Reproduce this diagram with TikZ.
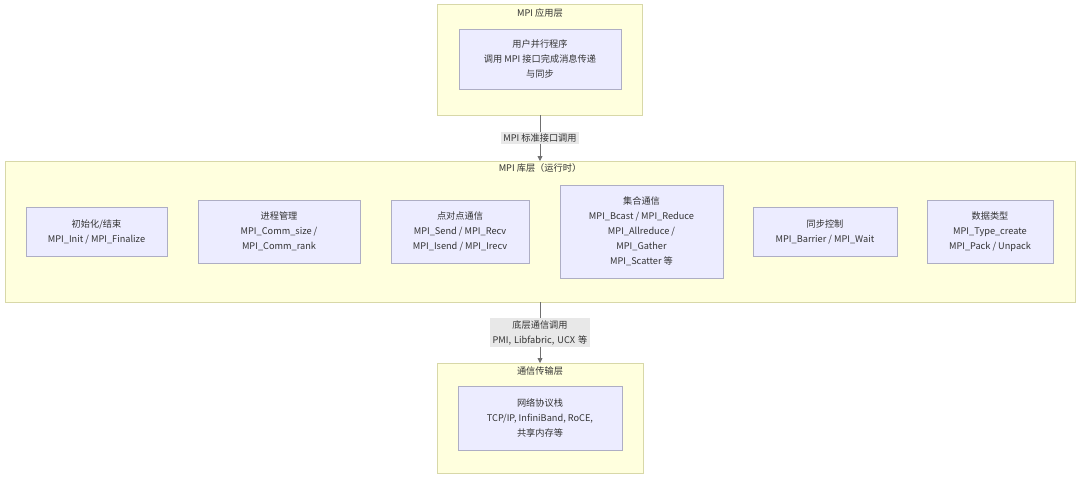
\documentclass[tikz,border=0pt]{standalone}
\usepackage{fontspec}
\newfontfamily\cjk{Noto Sans CJK SC}
\usetikzlibrary{arrows.meta}
\definecolor{clfill}{HTML}{FFFFDE}
\definecolor{cldraw}{HTML}{D8D8A8}
\definecolor{ndfill}{HTML}{ECECFF}
\definecolor{nddraw}{HTML}{AEAEC4}
\definecolor{lblbg}{HTML}{E8E8E8}
\definecolor{arr}{HTML}{707070}
\tikzset{
  cluster/.style={draw=cldraw, fill=clfill, line width=0.8pt},
  box/.style={draw=nddraw, fill=ndfill, line width=0.8pt},
  txt/.style={font=\cjk\fontsize{9.2}{15}\selectfont, text=black!80, align=center, inner sep=0pt},
  conn/.style={draw=arr, line width=0.8pt, -{Triangle[length=5pt,width=5pt]}},
  lbl/.style={fill=lblbg, font=\cjk\fontsize{9.2}{15}\selectfont, text=black!80, align=center, inner sep=2pt}
}
\begin{document}
\begin{tikzpicture}[x=1pt,y=-1pt]
\useasboundingbox[fill=white] (0,0) rectangle (1080,479);
% clusters
\draw[cluster] (437,4) rectangle (642,115);
\coordinate (c1b) at (540,115);
\node[txt] (t1) at (540,13) {MPI 应用层};
\draw[cluster] (5,161) rectangle (1075,302);
\coordinate (c2t) at (540,161);
\coordinate (c2b) at (540,302);
\node[txt] (t2) at (540,168) {MPI 库层（运行时）};
\draw[cluster] (437,363) rectangle (643,473);
\coordinate (c3t) at (540,363);
\node[txt] (t3) at (540,371) {通信传输层};
% boxes
\draw[box] (459,29) rectangle (621,89);
\node[txt] (app) at (540,59) {用户并行程序\\调用 MPI 接口完成消息传递\\与同步};
\draw[box] (26,207) rectangle (167,256);
\node[txt] (init) at (96.5,231.5) {初始化/结束\\MPI\_Init / MPI\_Finalize};
\draw[box] (198,200) rectangle (360,263);
\node[txt] (proc) at (279,231.5) {进程管理\\MPI\_Comm\_size /\\MPI\_Comm\_rank};
\draw[box] (391,200) rectangle (529,263);
\node[txt] (p2p) at (460,231.5) {点对点通信\\MPI\_Send / MPI\_Recv\\MPI\_Isend / MPI\_Irecv};
\draw[box] (560,185) rectangle (723,278);
\node[txt] (coll) at (641.5,231.5) {集合通信\\MPI\_Bcast / MPI\_Reduce\\MPI\_Allreduce /\\MPI\_Gather\\MPI\_Scatter 等};
\draw[box] (753,207) rectangle (897,256);
\node[txt] (sync) at (825,231.5) {同步控制\\MPI\_Barrier / MPI\_Wait};
\draw[box] (927,200) rectangle (1053,263);
\node[txt] (dtype) at (990,231.5) {数据类型\\MPI\_Type\_create\\MPI\_Pack / Unpack};
\draw[box] (458,386) rectangle (622,450);
\node[txt] (net) at (540,418) {网络协议栈\\TCP/IP, InfiniBand, RoCE,\\共享内存等};
% connectors
\draw[conn] (c1b) -- (c2t);
\node[lbl] (l1) at (540,138) {MPI 标准接口调用};
\draw[conn] (c2b) -- (c3t);
\node[lbl, text width=96pt] (l2) at (540,332.5) {底层通信调用\\PMI, Libfabric, UCX 等};
\end{tikzpicture}
\end{document}
